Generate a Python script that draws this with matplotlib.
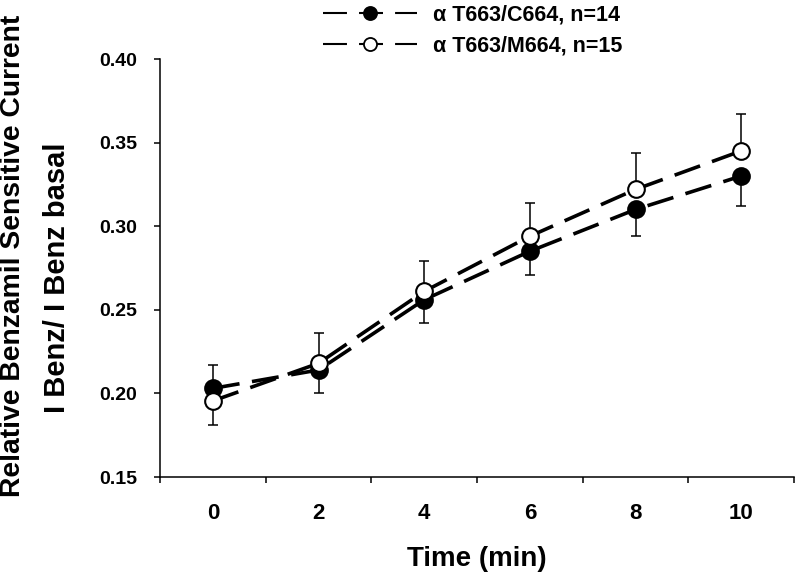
import matplotlib
matplotlib.use('Agg')
import matplotlib.pyplot as plt
from matplotlib.lines import Line2D
import numpy as np

plt.rcParams['font.family'] = ['Liberation Sans', 'DejaVu Sans']
plt.rcParams['font.weight'] = 'bold'

# ---- data ----
time = [0, 2, 4, 6, 8, 10]
c664 = [0.203, 0.214, 0.256, 0.285, 0.310, 0.330]
c664_err = [0.022, 0.0135, 0.014, 0.014, 0.016, 0.018]
m664 = [0.1955, 0.218, 0.261, 0.294, 0.322, 0.345]
m664_err = [0.0215, 0.018, 0.018, 0.020, 0.022, 0.022]
labels = ['\u03b1 T663/C664, n=14', '\u03b1 T663/M664, n=15']
xtick_labels = ['0', '2', '4', '6', '8', '10']
yticks = [0.15, 0.20, 0.25, 0.30, 0.35, 0.40]

W, H = 799, 572
fig = plt.figure(figsize=(W / 100, H / 100), dpi=100)
ax = fig.add_axes([160 / W, 1 - 477 / H, (794 - 160) / W, (477 - 59) / H])

lw = 2.6
dash = (7.5, 3.5)
zeros = [0] * len(time)


def hide_zero_caps(eb, y):
    for cl in eb.lines[1]:
        if np.allclose(cl.get_ydata(), y):
            cl.set_visible(False)


# filled series
ax.plot(time, c664, color='black', lw=lw, dashes=dash, zorder=2)
eb1 = ax.errorbar(time, c664, yerr=[c664_err, zeros], fmt='none', ecolor='black',
                  elinewidth=1.1, capsize=3.3, capthick=1.1, zorder=3)
hide_zero_caps(eb1, c664)
ax.plot(time, c664, ls='none', marker='o', ms=12, mfc='black', mec='black', mew=1.5, zorder=4)

# open series
ax.plot(time, m664, color='black', lw=lw, dashes=dash, zorder=5)
eb2 = ax.errorbar(time, m664, yerr=[zeros, m664_err], fmt='none', ecolor='black',
                  elinewidth=1.1, capsize=3.3, capthick=1.1, zorder=6)
hide_zero_caps(eb2, m664)
ax.plot(time, m664, ls='none', marker='o', ms=12, mfc='white', mec='black', mew=1.5, zorder=7)

ax.set_xlim(-1, 11)
ax.set_ylim(0.15, 0.40)
for s in ['top', 'right']:
    ax.spines[s].set_visible(False)
for s in ['left', 'bottom']:
    ax.spines[s].set_linewidth(1.1)

ax.set_xticks([-1, 1, 3, 5, 7, 9, 11])
ax.set_xticklabels([])
ax.set_xticks(time, minor=True)
ax.set_xticklabels(xtick_labels, minor=True)
ax.tick_params(axis='x', which='major', direction='out', length=4.3, width=1.1)
ax.tick_params(axis='x', which='minor', length=0, pad=19, labelsize=16)

ax.set_yticks(yticks)
ax.set_yticklabels(['%.2f' % v for v in yticks])
ax.tick_params(axis='y', direction='out', length=4.3, width=1.1, pad=12, labelsize=14)

fig.text(477 / W, 1 - 566 / H, 'Time (min)', ha='center', va='baseline', fontsize=20, weight='bold')
fig.text(13 / W, 1 - 497 / H, 'Relative Benzamil Sensitive Current', rotation=90,
         ha='center', va='bottom', fontsize=20.3, weight='bold')
fig.text(57 / W, 1 - 278 / H, 'I Benz/ I Benz basal', rotation=90,
         ha='center', va='center', fontsize=21, weight='bold')

h1 = Line2D([], [], color='black', lw=1.5, dashes=(11.5, 5.8), marker='o', ms=9.4,
            mfc='black', mec='black', mew=1.3)
h2 = Line2D([], [], color='black', lw=1.5, dashes=(11.5, 5.8), marker='o', ms=9.4,
            mfc='white', mec='black', mew=1.3)
fig.legend([h1, h2], labels, loc='upper left', bbox_to_anchor=(323 / W, 1 - 4.5 / H),
           frameon=False, borderpad=0, borderaxespad=0, handlelength=4.37,
           handletextpad=0.74, labelspacing=0.46, numpoints=1,
           prop={'size': 15.5, 'weight': 'bold'})

fig.savefig('out.png', dpi=100)
